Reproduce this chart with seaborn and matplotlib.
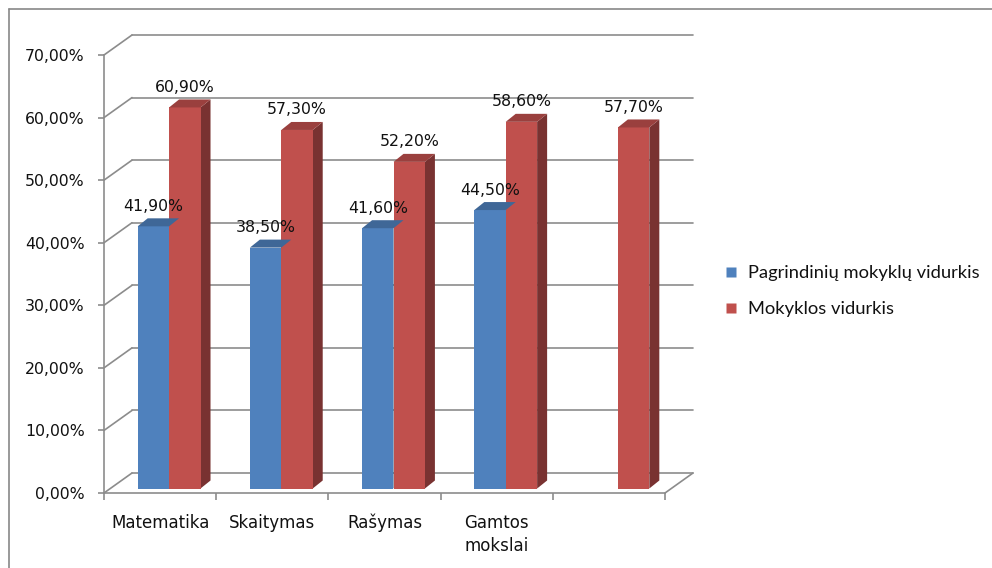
import matplotlib
matplotlib.use("Agg")
import matplotlib.pyplot as plt
import seaborn as sns
import pandas as pd
from matplotlib.lines import Line2D
from matplotlib.patches import Polygon
import matplotlib.colors as mcolors
import matplotlib.transforms as mtransforms

categories = ["Matematika", "Skaitymas", "Rašymas", "Gamtos\nmokslai", ""]
series_names = ["Pagrindinių mokyklų vidurkis", "Mokyklos vidurkis"]
pagrindiniu = [41.9, 38.5, 41.6, 44.5, None]
mokyklos = [60.9, 57.3, 52.2, 58.6, 57.7]
y_ticks = [0, 10, 20, 30, 40, 50, 60, 70]
colors = ["#4F81BD", "#C0504D"]

rows = []
for c, v in zip(categories, pagrindiniu):
    if v is not None:
        rows.append((c, series_names[0], v))
for c, v in zip(categories, mokyklos):
    if v is not None:
        rows.append((c, series_names[1], v))
df = pd.DataFrame(rows, columns=["cat", "series", "value"])

sns.set_theme(style="white")
plt.rcParams["font.family"] = ["DejaVu Sans"]

W, H = 992, 568
fig = plt.figure(figsize=(W / 100, H / 100), dpi=100)
x0, x1 = 104, 665
y0, y1 = 493, 55
ax = fig.add_axes([x0 / W, (H - y0) / H, (x1 - x0) / W, (y0 - y1) / H])
ax.set_facecolor("white")

sns.barplot(data=df, x="cat", y="value", hue="series", order=categories,
            hue_order=series_names, palette=colors, width=0.56, saturation=1,
            ax=ax, legend=False, zorder=3, edgecolor="none")

ax.set_xlim(-0.5, len(categories) - 0.5)
ax.set_ylim(0, 70)
ppx = (x1 - x0) / len(categories)
ppy = (y0 - y1) / 70.0

def px2d(dx, dy):
    return dx / ppx, dy / ppy

grid_col = "#8C8C8C"
text_col = "#111111"
# back wall + side wall grid
wdx, wdy = px2d(28, 20)
for yv in y_ticks:
    ax.plot([-0.5 + wdx, len(categories) - 0.5 + wdx], [yv + wdy, yv + wdy],
            color=grid_col, lw=1.2, clip_on=False, zorder=1)
    ax.plot([-0.5, -0.5 + wdx], [yv, yv + wdy], color=grid_col, lw=1.2,
            clip_on=False, zorder=1)
ax.plot([len(categories) - 0.5, len(categories) - 0.5 + wdx], [0, wdy],
        color=grid_col, lw=1.2, clip_on=False, zorder=1)

# 3D bars
sdx, sdy = px2d(9, 4.5)
bdx, bdy = px2d(10, 8)
for i, p in enumerate(list(ax.patches)):
    h = p.get_height()
    if h != h or h == 0:
        continue
    xl = p.get_x() + sdx
    w = p.get_width()
    xr = xl + w
    yb = sdy
    yt = h + sdy
    p.set_x(xl)
    p.set_y(yb)
    fc = mcolors.to_rgb(p.get_facecolor())
    top = tuple(c * 0.8 for c in fc)
    side = tuple(c * 0.63 for c in fc)
    ax.add_patch(Polygon([(xl, yt), (xr, yt), (xr + bdx, yt + bdy), (xl + bdx, yt + bdy)],
                         closed=True, facecolor=top, edgecolor="none", zorder=3, clip_on=False))
    ax.add_patch(Polygon([(xr, yb), (xr + bdx, yb + bdy), (xr + bdx, yt + bdy), (xr, yt)],
                         closed=True, facecolor=side, edgecolor="none", zorder=2.9, clip_on=False))
    lbl = f"{h:.2f}".replace(".", ",") + "%"
    ax.annotate(lbl, (xl + w / 2, yt), xytext=(0, 20 * 0.72), textcoords="offset points",
                ha="center", va="center", fontsize=11.3, color=text_col, zorder=5,
                annotation_clip=False)

# axes styling
for s in ["top", "right"]:
    ax.spines[s].set_visible(False)
for s in ["left", "bottom"]:
    ax.spines[s].set_color(grid_col)
    ax.spines[s].set_linewidth(1.2)
    ax.spines[s].set_zorder(4)
ax.set_yticks(y_ticks)
ax.set_yticklabels([f"{v:.2f}".replace(".", ",") + "%" for v in y_ticks], fontsize=11.3, color=text_col)
ax.tick_params(axis="y", direction="out", length=4, width=1.2, color=grid_col, pad=10, left=True)
ax.set_xticks([i - 0.5 for i in range(len(categories) + 1)])
ax.set_xticklabels([])
ax.tick_params(axis="x", which="major", direction="out", length=5, width=1.2, color=grid_col, bottom=True)
# category labels aligned on baseline, one text per line
for i, c in enumerate(categories):
    for k, line in enumerate(c.split("\n")):
        tr = mtransforms.blended_transform_factory(ax.transData, ax.transAxes) + \
            mtransforms.ScaledTranslation(0, -(35 + 23 * k) / 100, fig.dpi_scale_trans)
        ax.text(i, 0, line, transform=tr, ha="center", va="baseline", fontsize=12,
                color=text_col, clip_on=False)
ax.set_xlabel("")
ax.set_ylabel("")
ax.grid(False)

# legend
handles = [Line2D([0], [0], marker="s", linestyle="none", markersize=7.5,
                  markerfacecolor=c, markeredgecolor="none") for c in colors]
leg = fig.legend(handles, series_names, loc="center left",
                 bbox_to_anchor=(724 / W, (H - 291) / H), frameon=False,
                 prop={"family": "Lato", "size": 13.2}, handlelength=0.75,
                 handletextpad=0.55, labelspacing=1.1, borderpad=0, borderaxespad=0)
for t in leg.get_texts():
    t.set_color(text_col)

# outer border (left and top)
fig.add_artist(Line2D([8.5 / W, 8.5 / W], [0, 1 - 8.5 / H], transform=fig.transFigure,
                      color="#888888", lw=1.2))
fig.add_artist(Line2D([8.5 / W, 1], [1 - 8.5 / H, 1 - 8.5 / H], transform=fig.transFigure,
                      color="#888888", lw=1.2))

fig.savefig("out.png", dpi=100)
